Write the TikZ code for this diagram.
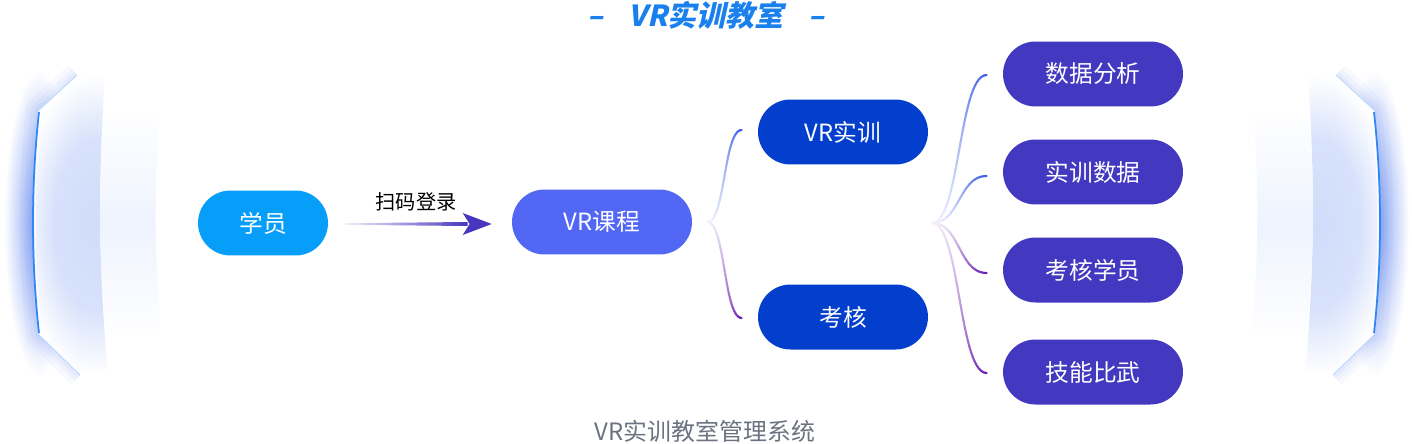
\documentclass[tikz,border=0pt]{standalone}
\usepackage{fontspec}
\setmainfont{Noto Sans CJK SC}
\newfontfamily\titlefont{Noto Sans CJK SC}[FakeSlant=0.22]
\usetikzlibrary{calc}

\definecolor{stucol}{HTML}{069EF8}
\definecolor{coursecol}{HTML}{5367F5}
\definecolor{midcol}{HTML}{033FCC}
\definecolor{leafcol}{HTML}{4339C0}
\definecolor{titlecol}{HTML}{1A80EE}
\definecolor{arrowc}{HTML}{4637BE}
\definecolor{lineblue}{HTML}{3D5EE9}
\definecolor{linepurple}{HTML}{6A1FB4}
\definecolor{glowc}{HTML}{7898F3}
\definecolor{edgec}{HTML}{2F86F5}
\definecolor{panelc}{HTML}{D0DCFA}
\definecolor{innerc}{HTML}{EEF3FE}
\definecolor{graytext}{HTML}{6B7280}

\pgfdeclareradialshading{panelglow}{\pgfpoint{0bp}{0bp}}{color(0bp)=(panelc); color(14bp)=(panelc!85!white); color(25bp)=(white); color(50bp)=(white)}
\pgfdeclareradialshading{edgeglow}{\pgfpoint{0bp}{0bp}}{color(0bp)=(glowc); color(12bp)=(glowc!50!white); color(25bp)=(white); color(50bp)=(white)}

\newcommand{\nodesize}{\fontsize{13.5pt}{16pt}\selectfont}

\tikzset{
  pill/.style={rectangle, rounded corners=0.65cm, minimum height=1.3cm,
    inner sep=0pt, text=white, font=\nodesize},
}

% curve that fades in from white, from #1 to #2
\newcommand{\fadecurve}[4]{%
  \foreach \k in {0,...,29}{%
    \pgfmathsetmacro{\ta}{\k/30}%
    \pgfmathsetmacro{\tb}{(\k+1)/30}%
    \pgfmathsetmacro{\mix}{6+94*\tb^1.5}%
    \path (#1) .. controls ($(#1)+(#4,0)$) and ($(#2)+(-#4,0)$) .. (#2)
      coordinate[pos=\ta] (fa) coordinate[pos=\tb] (fb);
    \draw[#3!\mix!white, line width=1.2pt, line cap=round] (fa) -- (fb);
  }}

% glowing side panel, left hand
\newcommand{\sidepanel}{%
  % haze outside the edge
  \begin{scope}
    \clip (0,40) -- (110,40) -- (77,75) -- (39,110) .. controls (31,185) and (31,260) .. (39,335)
      -- (80,375) -- (110,410) -- (0,410) -- cycle;
    \shade[shading=edgeglow] (4,70) rectangle (74,376);
    \foreach \w/\o in {26/0.05, 16/0.07, 8/0.08}
      \draw[glowc, opacity=\o, line width=\w*0.57pt, line join=round]
        (77,75) -- (39,110) .. controls (31,185) and (31,260) .. (39,335) -- (80,375);
  \end{scope}
  % panel body
  \begin{scope}
    \clip (77,75) -- (39,110) .. controls (31,185) and (31,260) .. (39,335) -- (80,375)
      -- (108,375) .. controls (98,260) and (98,185) .. (105,75) -- cycle;
    \shade[shading=panelglow] (20,75) rectangle (170,375);
  \end{scope}
  \shade[top color=white, bottom color=white, middle color=innerc]
    (105,107) .. controls (98,185) and (98,260) .. (108,340) -- (162,340)
    .. controls (154,260) and (154,185) .. (160,107) -- cycle;
  \draw[white, line width=0.6pt] (41,116) .. controls (33,185) and (33,260) .. (41,329);
  \draw[edgec, line width=1pt] (39,112) .. controls (31,185) and (31,260) .. (39,333);
  \draw[edgec!35, line width=0.5pt] (77,75) -- (39,110);
  \draw[edgec!35, line width=0.5pt] (39,335) -- (80,375);
}

\begin{document}
\begin{tikzpicture}[x=0.02cm, y=-0.02cm]
\useasboundingbox (0,0) rectangle (1412,443);

% Side panels
\sidepanel
\begin{scope}[shift={(1413,0)}, xscale=-1]
\sidepanel
\end{scope}

% Title
\node[font=\titlefont\bfseries\fontsize{16.5pt}{20pt}\selectfont, text=titlecol] (title) at (706,15)
  {–\hspace{0.85em}VR实训教室\hspace{0.85em}–};

% Student and course
\node[pill, fill=stucol, minimum width=2.6cm] (xy) at (263,223) {学员};
\node[pill, fill=coursecol, minimum width=3.6cm] (kc) at (602,222) {VR课程};

% Scan arrow
\coordinate (a0) at ($(xy.east)+(17,1)$);
\coordinate (a1) at ($(kc.west)+(-20,2)$);
\shade[left color=arrowc!8, right color=arrowc] ($(a0)+(0,-0.8)$) -- ($(a1)+(-24,-2)$)
  -- ($(a1)+(-24,2)$) -- ($(a0)+(0,0.8)$) -- cycle;
\fill[arrowc] (a1) -- ($(a1)+(-29,-11)$) -- ($(a1)+(-22,0)$) -- ($(a1)+(-29,11)$) -- cycle;
\node[font=\fontsize{11.5pt}{14pt}\selectfont] (sm) at (416,202) {扫码登录};

% Training and exam
\node[pill, fill=midcol, minimum width=3.4cm] (sx) at (843,132) {VR实训};
\node[pill, fill=midcol, minimum width=3.4cm] (kh) at (843,317) {考核};

\coordinate (kcout) at ($(kc.east)+(15,0)$);
\coordinate (sxin) at ($(sx.west)+(-16,-2)$);
\coordinate (khin) at ($(kh.west)+(-16,1)$);
\fadecurve{kcout}{sxin}{lineblue}{18}
\fadecurve{kcout}{khin}{linepurple}{18}

% Results
\node[pill, fill=leafcol, minimum width=3.6cm] (sjfx) at (1093,74) {数据分析};
\node[pill, fill=leafcol, minimum width=3.6cm] (sxsj) at (1093,172) {实训数据};
\node[pill, fill=leafcol, minimum width=3.6cm] (khxy) at (1093,270) {考核学员};
\node[pill, fill=leafcol, minimum width=3.6cm] (jnbw) at (1093,372) {技能比武};

\coordinate (sxout) at (932,223);
\coordinate (sjfxin) at ($(sjfx.west)+(-16,1)$);
\coordinate (sxsjin) at ($(sxsj.west)+(-16,4)$);
\coordinate (khxyin) at ($(khxy.west)+(-16,3)$);
\coordinate (jnbwin) at ($(jnbw.west)+(-16,1)$);
\fadecurve{sxout}{sjfxin}{lineblue}{28}
\fadecurve{sxout}{sxsjin}{lineblue}{28}
\fadecurve{sxout}{khxyin}{linepurple}{28}
\fadecurve{sxout}{jnbwin}{linepurple}{28}

% System name
\node[font=\fontsize{13.6pt}{17pt}\selectfont, text=graytext] (sys) at (705,431) {VR实训教室管理系统};

\end{tikzpicture}
\end{document}
